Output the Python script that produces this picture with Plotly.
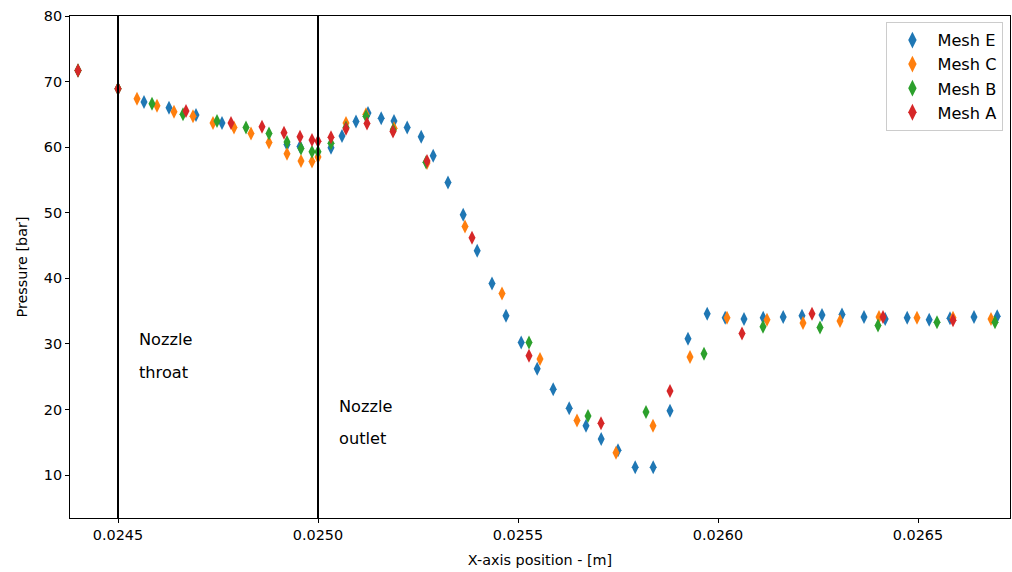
import plotly.graph_objects as go

# Mesh E (blue)
mesh_e_x = [0.02440, 0.02450, 0.024565, 0.0246275, 0.024695, 0.02476, 0.0249225, 0.024955,
            0.0250325, 0.02506, 0.025095, 0.025125, 0.025158, 0.02519, 0.025223, 0.025258,
            0.025288, 0.025325, 0.025363, 0.025398, 0.025435, 0.02547, 0.025508, 0.025548,
            0.025588, 0.025628, 0.02567, 0.025708, 0.02575, 0.025793, 0.025838, 0.02588,
            0.025925, 0.025973, 0.026018, 0.026065, 0.026113, 0.026163, 0.02621, 0.02626,
            0.02631, 0.026365, 0.026418, 0.026473, 0.026528, 0.02658, 0.02664, 0.026698]
mesh_e_y = [71.7, 68.9, 66.9, 66.0, 64.9, 63.7, 60.4, 60.1,
            59.9, 61.7, 63.9, 65.2, 64.4, 64.0, 63.0, 61.6,
            58.7, 54.6, 49.7, 44.2, 39.2, 34.3, 30.2, 26.2,
            23.1, 20.2, 17.5, 15.5, 13.8, 11.2, 11.2, 19.8,
            30.8, 34.6, 34.0, 33.8, 34.0, 34.1, 34.3, 34.4,
            34.5, 34.1, 33.8, 34.0, 33.7, 33.9, 34.1, 34.2]

# Mesh C (orange)
mesh_c_x = [0.02440, 0.02450, 0.0245475, 0.0245975, 0.02464, 0.0246875, 0.0247375, 0.02479,
            0.0248325, 0.0248775, 0.0249225, 0.0249575, 0.024985, 0.02500, 0.02507, 0.02512,
            0.02519, 0.0252725, 0.0253675, 0.02546, 0.025555, 0.0256475, 0.025745, 0.0258375,
            0.02593, 0.0260225, 0.0261225, 0.0262125, 0.026305, 0.0264025, 0.0264975,
            0.0265875, 0.0266825]
mesh_c_y = [71.7, 68.9, 67.4, 66.3, 65.4, 64.7, 63.7, 63.0,
            62.1, 60.7, 59.0, 57.9, 57.8, 58.5, 63.7, 65.0,
            62.9, 57.6, 47.9, 37.7, 27.7, 18.3, 13.4, 17.5,
            28.0, 34.0, 33.7, 33.2, 33.5, 34.1, 34.0,
            34.0, 33.8]

# Mesh B (green)
mesh_b_x = [0.02440, 0.02450, 0.024585, 0.0246625, 0.0247475, 0.02482, 0.0248775, 0.0249225,
            0.0249575, 0.024985, 0.02500, 0.0250325, 0.02507, 0.02512, 0.025188, 0.02527,
            0.0255275, 0.025675, 0.02582, 0.025965, 0.0261125, 0.026255, 0.02640, 0.0265475,
            0.0266925]
mesh_b_y = [71.7, 68.9, 66.6, 65.0, 64.0, 63.0, 62.1, 60.8,
            59.8, 59.3, 59.3, 60.6, 63.0, 64.7, 62.6, 57.7,
            30.2, 19.0, 19.6, 28.5, 32.6, 32.5, 32.8, 33.3,
            33.3]

# Mesh A (red)
mesh_a_x = [0.02440, 0.02450, 0.02467, 0.0247825, 0.02486, 0.024915, 0.024955, 0.024985,
            0.02500, 0.0250325, 0.02507, 0.0251225, 0.0251875, 0.0252725, 0.025385, 0.0255275,
            0.0257075, 0.02588, 0.02606, 0.026235, 0.0264125, 0.0265875]
mesh_a_y = [71.7, 68.9, 65.5, 63.7, 63.1, 62.2, 61.6, 61.1,
            60.9, 61.5, 62.8, 63.6, 62.4, 57.9, 46.2, 28.2,
            17.9, 22.8, 31.6, 34.6, 34.1, 33.6]

series = [
    ("Mesh E", mesh_e_x, mesh_e_y, "#1f77b4"),
    ("Mesh C", mesh_c_x, mesh_c_y, "#ff7f0e"),
    ("Mesh B", mesh_b_x, mesh_b_y, "#2ca02c"),
    ("Mesh A", mesh_a_x, mesh_a_y, "#d62728"),
]

x_ticks = [0.0245, 0.0250, 0.0255, 0.0260, 0.0265]
x_tick_labels = ["0.0245", "0.0250", "0.0255", "0.0260", "0.0265"]
y_ticks = [10, 20, 30, 40, 50, 60, 70, 80]

throat_x = 0.0245
outlet_x = 0.0250

FONT = "DejaVu Sans"
FS = 14.4
FS_BIG = 16.2

fig = go.Figure()
for name, xs, ys, col in series:
    fig.add_trace(go.Scatter(
        x=xs, y=ys, mode="markers", name=name,
        marker=dict(symbol="diamond-tall", size=10, color=col, line=dict(width=0)),
    ))

for xv in (throat_x, outlet_x):
    fig.add_shape(type="line", xref="x", yref="paper", x0=xv, x1=xv, y0=0, y1=1,
                  line=dict(color="black", width=2))

annots = [
    (0.024547, 30.6, "Nozzle"),
    (0.024547, 25.6, "throat"),
    (0.0250465, 20.5, "Nozzle"),
    (0.0250465, 15.6, "outlet"),
]
for ax_, ay_, txt in annots:
    fig.add_annotation(x=ax_, y=ay_, text=txt, showarrow=False, xanchor="left",
                       yanchor="middle", font=dict(family=FONT, size=FS_BIG, color="black"))

fig.update_layout(
    width=1012, height=572,
    margin=dict(l=70, r=2, t=16, b=54),
    paper_bgcolor="white", plot_bgcolor="white",
    font=dict(family=FONT, size=FS, color="black"),
    legend=dict(x=0.993, y=0.988, xanchor="right", yanchor="top",
                bordercolor="#cccccc", borderwidth=1, bgcolor="rgba(255,255,255,0.8)",
                font=dict(family=FONT, size=FS_BIG), itemsizing="constant",
                tracegroupgap=0, itemwidth=40),
    showlegend=True,
)
fig.update_xaxes(
    range=[0.02438, 0.02673], tickvals=x_ticks, ticktext=x_tick_labels,
    showgrid=False, zeroline=False, showline=True, linecolor="black", linewidth=1,
    mirror=True, ticks="outside", ticklen=4, tickcolor="black",
    title=dict(text="X-axis position - [m]", standoff=12, font=dict(family=FONT, size=FS)),
)
fig.update_yaxes(
    range=[3.45, 80], tickvals=y_ticks,
    showgrid=False, zeroline=False, showline=True, linecolor="black", linewidth=1,
    mirror=True, ticks="outside", ticklen=4, tickcolor="black",
    title=dict(text="Pressure [bar]", standoff=12, font=dict(family=FONT, size=FS)),
)

fig.write_html("out.html")
